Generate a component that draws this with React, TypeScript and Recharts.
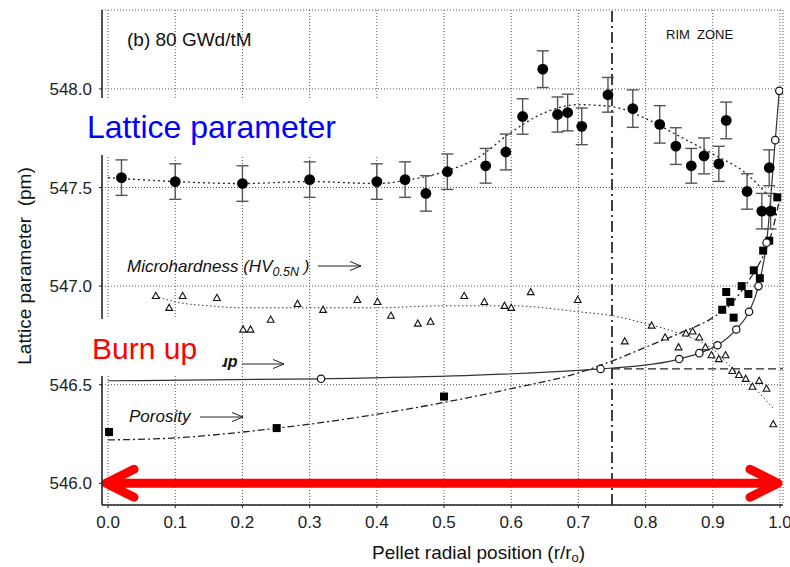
import React from "react";
import {
  ComposedChart,
  Line,
  Scatter,
  XAxis,
  YAxis,
  CartesianGrid,
  ReferenceLine,
  ErrorBar,
} from "recharts";

const FONT = "'Liberation Sans', Arial, Helvetica, sans-serif";

// ---- axes ----
const xDomain = [-0.009, 1.0045];
const yDomain = [545.89, 548.4];
const xMajorTicks = [0, 0.1, 0.2, 0.3, 0.4, 0.5, 0.6, 0.7, 0.8, 0.9, 1.0];
const yMajorTicks = [546.0, 546.5, 547.0, 547.5, 548.0];
const xMinorTicks = Array.from({ length: 51 }, (_, i) => +(i * 0.02).toFixed(2));
const yMinorTicks = Array.from({ length: 25 }, (_, i) => +(545.9 + i * 0.1).toFixed(1));
const yRightTicks = Array.from({ length: 50 }, (_, i) => +(545.9 + i * 0.05).toFixed(2));

// ---- lattice parameter (filled circles with error bars) ----
const latticeX = [0.02, 0.1, 0.2, 0.3, 0.4, 0.442, 0.473, 0.505, 0.562, 0.592, 0.617, 0.647, 0.669, 0.684, 0.705, 0.744, 0.781, 0.821, 0.845, 0.868, 0.887, 0.909, 0.92, 0.951, 0.973, 0.984, 0.986];
const latticeY = [547.55, 547.53, 547.52, 547.54, 547.53, 547.54, 547.47, 547.58, 547.61, 547.68, 547.86, 548.1, 547.87, 547.88, 547.81, 547.97, 547.9, 547.82, 547.71, 547.61, 547.66, 547.62, 547.84, 547.48, 547.38, 547.6, 547.38];
const latticeErr = [0.09, 0.09, 0.09, 0.09, 0.09, 0.09, 0.09, 0.09, 0.088, 0.091, 0.09, 0.093, 0.089, 0.093, 0.093, 0.088, 0.095, 0.095, 0.093, 0.088, 0.091, 0.089, 0.093, 0.09, 0.09, 0.091, 0.09];

// lattice fit (dotted)
const latticeFitX = [0.0, 0.1, 0.2, 0.3, 0.4, 0.45, 0.5, 0.55, 0.6, 0.65, 0.7, 0.75, 0.8, 0.85, 0.9, 0.95, 0.985];
const latticeFitY = [547.55, 547.53, 547.52, 547.53, 547.52, 547.54, 547.58, 547.65, 547.78, 547.88, 547.92, 547.91, 547.85, 547.76, 547.67, 547.57, 547.45];

// ---- microhardness (open triangles) ----
const microX = [0.071, 0.091, 0.111, 0.162, 0.201, 0.212, 0.242, 0.282, 0.32, 0.371, 0.401, 0.421, 0.461, 0.48, 0.53, 0.56, 0.59, 0.6, 0.629, 0.699, 0.769, 0.809, 0.829, 0.849, 0.86, 0.87, 0.88, 0.889, 0.898, 0.909, 0.919, 0.929, 0.939, 0.949, 0.959, 0.969, 0.98, 0.99];
const microY = [546.95, 546.89, 546.95, 546.94, 546.78, 546.78, 546.83, 546.91, 546.88, 546.93, 546.92, 546.85, 546.81, 546.82, 546.95, 546.92, 546.9, 546.89, 546.97, 546.93, 546.72, 546.8, 546.74, 546.69, 546.76, 546.77, 546.74, 546.69, 546.65, 546.63, 546.65, 546.57, 546.55, 546.53, 546.49, 546.52, 546.48, 546.3];
const microFitX = [0.07, 0.1, 0.15, 0.2, 0.3, 0.4, 0.5, 0.6, 0.7, 0.75, 0.8, 0.85, 0.9, 0.93, 0.96, 0.99];
const microFitY = [546.95, 546.92, 546.9, 546.89, 546.89, 546.89, 546.9, 546.9, 546.87, 546.85, 546.81, 546.76, 546.68, 546.58, 546.49, 546.38];

// ---- burn up (open circles, solid line) ----
const burnX = [0.0, 0.317, 0.733, 0.85, 0.88, 0.907, 0.935, 0.954, 0.968, 0.98, 0.993, 0.999];
const burnY = [546.52, 546.53, 546.58, 546.63, 546.66, 546.7, 546.78, 546.87, 547.0, 547.22, 547.74, 547.99];

// ---- porosity (filled squares, dash-dot line) ----
const porX = [0.0015, 0.251, 0.5, 0.914, 0.92, 0.926, 0.931, 0.943, 0.953, 0.961, 0.97, 0.975, 0.984, 0.988, 0.996];
const porY = [546.26, 546.28, 546.44, 546.88, 546.97, 546.92, 546.84, 547.0, 546.96, 547.08, 547.04, 547.18, 547.23, 547.38, 547.45];
const porFitX = [0.0, 0.1, 0.2, 0.3, 0.4, 0.5, 0.6, 0.7, 0.75, 0.8, 0.85, 0.9, 0.93, 0.95, 0.97, 0.98, 0.99, 1.0];
const porFitY = [546.22, 546.23, 546.26, 546.3, 546.35, 546.41, 546.48, 546.56, 546.62, 546.69, 546.76, 546.84, 546.92, 547.01, 547.12, 547.19, 547.3, 547.45];

// ---- reference markers ----
const rimBoundary = 0.75;
const rimLevel = 546.58;
const arrowLevel = 546.0;

const zip = (xs: number[], ys: number[]) => xs.map((x, i) => ({ x, y: ys[i] }));
const latticeData = latticeX.map((x, i) => ({ x, y: latticeY[i], err: latticeErr[i] }));
const latticeFit = zip(latticeFitX, latticeFitY);
const microData = zip(microX, microY);
const microFit = zip(microFitX, microFitY);
const burnLine = zip(burnX, burnY);
const burnPts = burnLine.slice(1);
const porData = zip(porX, porY);
const porFit = zip(porFitX, porFitY);

const FilledCircle = (p: any) => <circle cx={p.cx} cy={p.cy} r={5.4} fill="#000" />;
const OpenCircle = (p: any) => (
  <circle cx={p.cx} cy={p.cy} r={3.7} fill="#fff" stroke="#111" strokeWidth={1.2} />
);
const Square = (p: any) => <rect x={p.cx - 4} y={p.cy - 4} width={8} height={8} fill="#000" />;
const Triangle = (p: any) => (
  <path
    d={`M${p.cx},${p.cy - 3.6} L${p.cx + 3.4},${p.cy + 2.6} L${p.cx - 3.4},${p.cy + 2.6} Z`}
    fill="#fff"
    stroke="#111"
    strokeWidth={1.1}
  />
);

const RedArrow = (p: any) => {
  const a = p.x1 + 4;
  const b = p.x2 - 5;
  const y = p.y1;
  return (
    <path
      d={`M${a},${y} L${b},${y} M${a + 28},${y - 14} L${a},${y} L${a + 28},${y + 14} M${b - 28},${y - 14} L${b},${y} L${b - 28},${y + 14}`}
      stroke="#FF0000"
      strokeWidth={9}
      fill="none"
      strokeLinecap="round"
      strokeLinejoin="round"
    />
  );
};

const smallArrow = (x1: number, x2: number, y: number) =>
  `M${x1},${y} L${x2},${y} M${x2 - 11},${y - 4.5} L${x2},${y} L${x2 - 11},${y + 4.5}`;

const axisStroke = { stroke: "#222", strokeWidth: 1.5 };
const blank = () => "";

export default function App() {
  return (
    <div style={{ position: "absolute", left: 0, top: 0, width: 790, height: 567, background: "#fff" }}>
      <ComposedChart width={790} height={567} margin={{ top: 10, right: 7, bottom: 0, left: 0 }}>
        <CartesianGrid strokeDasharray="1 2" stroke="#555" strokeWidth={1} />
        <XAxis
          dataKey="x"
          type="number"
          domain={xDomain}
          allowDataOverflow
          ticks={xMajorTicks}
          interval={0}
          tickFormatter={(v: number) => v.toFixed(1)}
          height={62}
          tickSize={3}
          tickMargin={8}
          tick={{ fontSize: 17, fill: "#222", fontFamily: FONT }}
          axisLine={axisStroke}
          tickLine={{ stroke: "#222" }}
        />
        <XAxis xAxisId="bmin" type="number" domain={xDomain} allowDataOverflow ticks={xMinorTicks} interval={0} mirror height={0} tickSize={4} tickFormatter={blank} axisLine={false} tickLine={{ stroke: "#222" }} />
        <XAxis xAxisId="bmaj" type="number" domain={xDomain} allowDataOverflow ticks={xMajorTicks} interval={0} mirror height={0} tickSize={8} tickFormatter={blank} axisLine={false} tickLine={{ stroke: "#222" }} />
        <XAxis xAxisId="top" orientation="top" type="number" domain={xDomain} allowDataOverflow ticks={xMinorTicks} interval={0} mirror height={0} tickSize={5} tickFormatter={blank} axisLine={axisStroke} tickLine={{ stroke: "#222" }} />
        <YAxis
          dataKey="y"
          type="number"
          domain={yDomain}
          allowDataOverflow
          ticks={yMajorTicks}
          interval={0}
          tickFormatter={(v: number) => v.toFixed(1)}
          width={102}
          tickSize={3}
          tickMargin={7}
          tick={{ fontSize: 17, fill: "#222", fontFamily: FONT }}
          axisLine={axisStroke}
          tickLine={{ stroke: "#222" }}
        />
        <YAxis yAxisId="lmin" type="number" domain={yDomain} allowDataOverflow ticks={yMinorTicks} interval={0} mirror width={0} tickSize={4} tickFormatter={blank} axisLine={false} tickLine={{ stroke: "#222" }} />
        <YAxis yAxisId="lmaj" type="number" domain={yDomain} allowDataOverflow ticks={yMajorTicks} interval={0} mirror width={0} tickSize={8} tickFormatter={blank} axisLine={false} tickLine={{ stroke: "#222" }} />
        <YAxis yAxisId="right" orientation="right" type="number" domain={yDomain} allowDataOverflow ticks={yRightTicks} interval={0} mirror width={0} tickSize={4} tickFormatter={blank} axisLine={axisStroke} tickLine={{ stroke: "#222" }} />

        <ReferenceLine x={rimBoundary} stroke="#111" strokeWidth={1.6} strokeDasharray="11 4 2 4" />
        <ReferenceLine
          segment={[{ x: rimBoundary, y: rimLevel }, { x: xDomain[1], y: rimLevel }]}
          stroke="#222"
          strokeWidth={1.3}
          strokeDasharray="8 4"
        />

        <Line data={latticeFit} dataKey="y" type="monotone" stroke="#222" strokeWidth={1.3} strokeDasharray="2 3" dot={false} isAnimationActive={false} />
        <Line data={microFit} dataKey="y" type="monotone" stroke="#333" strokeWidth={1} strokeDasharray="1.5 2.5" dot={false} isAnimationActive={false} />
        <Line data={porFit} dataKey="y" type="monotone" stroke="#222" strokeWidth={1.3} strokeDasharray="7 3 2 3" dot={false} isAnimationActive={false} />
        <Line data={burnLine} dataKey="y" type="monotone" stroke="#333" strokeWidth={1.2} dot={false} isAnimationActive={false} />

        <Scatter data={microData} dataKey="y" shape={Triangle} isAnimationActive={false} />
        <Scatter data={porData} dataKey="y" shape={Square} isAnimationActive={false} />
        <Scatter data={burnPts} dataKey="y" shape={OpenCircle} isAnimationActive={false} />
        <Scatter data={latticeData} dataKey="y" shape={FilledCircle} isAnimationActive={false}>
          <ErrorBar dataKey="err" direction="y" width={6} stroke="#555" strokeWidth={1.4} />
        </Scatter>

        <ReferenceLine y={arrowLevel} shape={RedArrow} />
      </ComposedChart>

      <svg width={790} height={567} style={{ position: "absolute", left: 0, top: 0, pointerEvents: "none" }} fontFamily={FONT}>
        <text x={127} y={46} fontSize={19} fill="#111">(b) 80 GWd/tM</text>
        <text x={666} y={39} fontSize={13} fill="#111" style={{ whiteSpace: "pre" }}>RIM  ZONE</text>

        <text x={127} y={272} fontSize={17} fontStyle="italic" fill="#111">
          Microhardness (HV<tspan fontSize={12.5} dy={4}>0.5N</tspan><tspan dy={-4}> )</tspan>
        </text>
        <path d={smallArrow(318, 361, 266)} stroke="#222" strokeWidth={1} fill="none" />

        <text x={218} y={367} fontSize={16} fontStyle="italic" fontWeight="bold" fill="#111">up</text>
        <path d={smallArrow(242, 284, 364)} stroke="#222" strokeWidth={1} fill="none" />

        <text x={129} y={422} fontSize={17} fontStyle="italic" fill="#111">Porosity</text>
        <path d={smallArrow(200, 243, 417)} stroke="#222" strokeWidth={1} fill="none" />

        <rect x={86} y={98} width={306} height={57} fill="#fff" />
        <text x={87} y={138} fontSize={32} fill="#0000FF">Lattice parameter</text>

        <rect x={88} y={319} width={134} height={57} fill="#fff" />
        <text x={92} y={359} fontSize={30} fill="#FF0000">Burn up</text>

        <text
          x={31}
          y={266}
          fontSize={19}
          fill="#111"
          textAnchor="middle"
          transform="rotate(-90, 31, 266)"
          style={{ whiteSpace: "pre" }}
        >
          Lattice parameter  (pm)
        </text>
        <text x={372} y={559} fontSize={19} fill="#111">
          Pellet radial position (r/r<tspan fontSize={13} dy={3}>o</tspan><tspan dy={-3}>)</tspan>
        </text>
      </svg>
    </div>
  );
}
